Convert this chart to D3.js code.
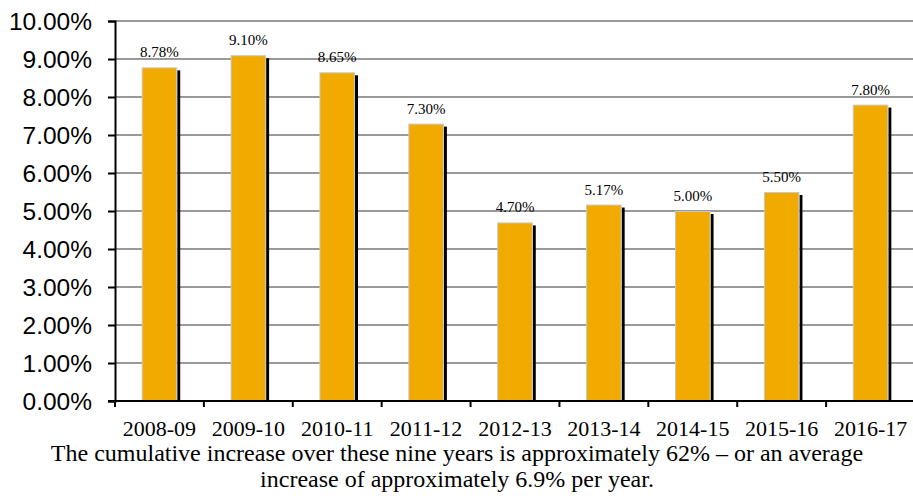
<!DOCTYPE html>
<html>
<head>
<meta charset="utf-8">
<script src="https://cdn.jsdelivr.net/npm/d3@7"></script>
<style>
  body { margin: 0; background: #fff; }
  svg { display: block; }
</style>
</head>
<body>
<svg id="svg"></svg>
<script>
// chart data
var years = ["2008-09", "2009-10", "2010-11", "2011-12", "2012-13",
             "2013-14", "2014-15", "2015-16", "2016-17"];
var rates = [8.78, 9.10, 8.65, 7.30, 4.70, 5.17, 5.00, 5.50, 7.80];
var rateLabels = ["8.78%", "9.10%", "8.65%", "7.30%", "4.70%",
                  "5.17%", "5.00%", "5.50%", "7.80%"];
var yTicks = [0, 1, 2, 3, 4, 5, 6, 7, 8, 9, 10];
var caption = [
    "The cumulative increase over these nine years is approximately 62% \u2013 or an average",
    "increase of approximately 6.9% per year."
];

var width = 913, height = 496;
var plotLeft = 115, plotRight = 915, plotTop = 21, plotBottom = 401;

var svg = d3.select("#svg")
        .attr("width", width)
        .attr("height", height);

var x = d3.scaleBand()
        .domain(years)
        .range([plotLeft, plotRight])
        .paddingInner(0.6)
        .paddingOuter(0.3);

var y = d3.scaleLinear()
        .domain([0, 10])
        .range([plotBottom, plotTop]);

// gridlines
svg.append("g")
    .selectAll("line")
    .data(yTicks.slice(1))
    .enter()
    .append("line")
    .attr("x1", plotLeft)
    .attr("x2", width)
    .attr("y1", function(d) { return y(d); })
    .attr("y2", function(d) { return y(d); })
    .attr("stroke", "#999")
    .attr("stroke-width", 2);

// y axis
var yAxis = svg.append("g")
        .attr("transform", "translate(" + plotLeft + ",0)")
        .call(d3.axisLeft(y)
            .tickValues(yTicks)
            .tickSize(7)
            .tickPadding(16)
            .tickFormat(function(d) { return d.toFixed(2) + "%"; }));
yAxis.select(".domain").attr("stroke", "#000").attr("stroke-width", 2);
yAxis.selectAll(".tick line").attr("stroke", "#000").attr("stroke-width", 2);
yAxis.selectAll("text")
    .attr("fill", "#000")
    .attr("dy", "0.36em")
    .style("font-family", "'Liberation Sans', Arial, sans-serif")
    .style("font-size", "24.5px");

// bars with the little drop shadow on the right
var bars = svg.append("g")
        .selectAll("g")
        .data(rates)
        .enter()
        .append("g");

bars.append("rect")
    .attr("x", function(d, i) { return x(years[i]) + x.bandwidth(); })
    .attr("y", function(d) { return y(d) + 3; })
    .attr("width", 3)
    .attr("height", function(d) { return plotBottom - y(d) - 3; })
    .attr("fill", "#000");

bars.append("rect")
    .attr("x", function(d, i) { return x(years[i]) + 0.5; })
    .attr("y", function(d) { return y(d) + 0.5; })
    .attr("width", x.bandwidth() - 1)
    .attr("height", function(d) { return plotBottom - y(d) - 0.5; })
    .attr("fill", "#f0aa00")
    .attr("stroke", "#c8c8c8")
    .attr("stroke-width", 1);

bars.append("text")
    .attr("x", function(d, i) { return x(years[i]) + x.bandwidth() / 2; })
    .attr("y", function(d) { return y(d) - 10; })
    .attr("text-anchor", "middle")
    .style("font-family", "'Liberation Serif', 'Times New Roman', serif")
    .style("font-size", "15px")
    .text(function(d, i) { return rateLabels[i]; });

// x axis
var xAxis = svg.append("g")
        .attr("transform", "translate(0," + plotBottom + ")")
        .call(d3.axisBottom(x).tickSize(0).tickPadding(0));
xAxis.select(".domain").remove();
xAxis.selectAll("text")
    .attr("fill", "#000")
    .attr("y", 35)
    .attr("dy", 0)
    .style("font-family", "'Liberation Serif', 'Times New Roman', serif")
    .style("font-size", "22px");

svg.append("line")
    .attr("x1", plotLeft - 7)
    .attr("x2", width)
    .attr("y1", plotBottom)
    .attr("y2", plotBottom)
    .attr("stroke", "#000")
    .attr("stroke-width", 2);

// category boundary ticks
function catStart(d) { return x(d) - (x.step() - x.bandwidth()) / 2; }
svg.append("g")
    .selectAll("line")
    .data(years)
    .enter()
    .append("line")
    .attr("x1", catStart)
    .attr("x2", catStart)
    .attr("y1", plotBottom)
    .attr("y2", plotBottom + 6)
    .attr("stroke", "#000")
    .attr("stroke-width", 2);

// caption under the chart
svg.append("g")
    .selectAll("text")
    .data(caption)
    .enter()
    .append("text")
    .attr("x", 457)
    .attr("y", function(d, i) { return 461 + i * 26; })
    .attr("text-anchor", "middle")
    .style("font-family", "'Liberation Serif', 'Times New Roman', serif")
    .style("font-size", "24px")
    .text(function(d) { return d; });
</script>
</body>
</html>
